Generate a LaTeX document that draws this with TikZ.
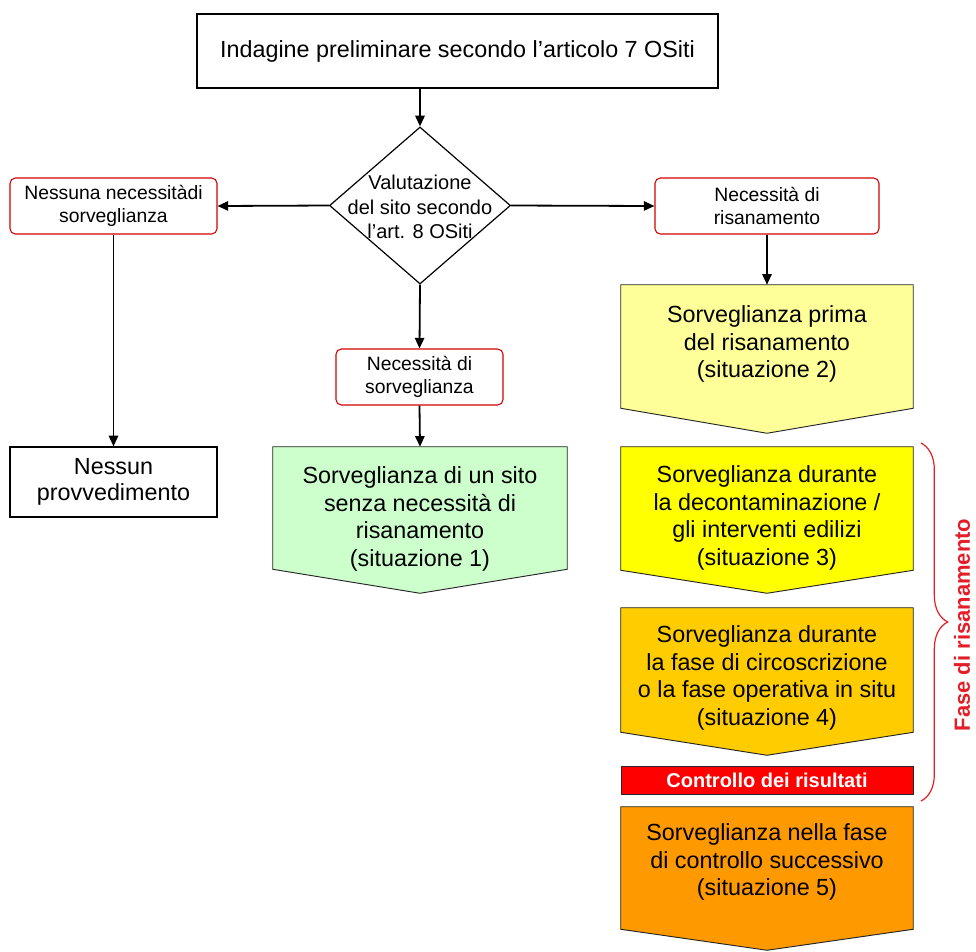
\documentclass[tikz,border=0pt]{standalone}
\usepackage{fontspec}
\setmainfont{Liberation Sans}
\usetikzlibrary{arrows.meta,shapes.geometric,decorations.pathreplacing,calc}
\definecolor{boxred}{RGB}{210,0,0}
\definecolor{bracered}{RGB}{228,30,40}
\definecolor{sgreen}{RGB}{204,255,204}
\definecolor{syellowl}{RGB}{255,255,153}
\definecolor{syellow}{RGB}{255,255,0}
\definecolor{sgold}{RGB}{255,204,0}
\definecolor{sorange}{RGB}{255,153,0}
\definecolor{barred}{RGB}{255,0,0}
\begin{document}
\begin{tikzpicture}[x=0.75pt,y=-0.75pt,
  plainbox/.style={draw=black, line width=0.9pt, rectangle, inner sep=0pt, align=center, font=\fontsize{17.5}{19.5}\selectfont},
  redbox/.style={draw=boxred, line width=0.8pt, rounded corners=4pt, inner sep=0pt, align=center, font=\fontsize{14.5}{17.5}\selectfont},
  conn/.style={line width=1.35pt, -{Triangle[length=8pt,width=7pt]}},
  pentbody/.style={inner sep=0pt, rectangle},
  penttext/.style={align=center, font=\fontsize{17.5}{20.8}\selectfont, inner sep=0pt},
  pentline/.style={draw=black!85, line width=0.7pt},
]
\useasboundingbox (0,0) rectangle (976,951);

% top box
\node[plainbox, minimum width=390.75pt, minimum height=55.5pt] (top) at (457.5,51) {Indagine preliminare secondo l’articolo 7 OSiti};

% diamond
\node[diamond, draw=black, line width=0.9pt, minimum width=135.75pt, minimum height=117.75pt, inner sep=0pt] (diam) at (420,205.5) {};
\node[align=center, inner sep=0pt, font=\fontsize{15}{18.4}\selectfont] (diamt) at (420,207) {Valutazione\\del sito secondo\\l’art. 8 OSiti};

% rounded boxes
\node[redbox, minimum width=155.25pt, minimum height=42pt] (lbox) at (113.5,206) {Nessuna necessitàdi\\sorveglianza};
\node[redbox, minimum width=168pt, minimum height=42pt] (rbox) at (767,206) {Necessità di\\risanamento};
\node[redbox, minimum width=125.25pt, minimum height=42pt] (mbox) at (419.5,377) {Necessità di\\sorveglianza};

% no action box
\node[plainbox, minimum width=155.25pt, minimum height=52.5pt] (none) at (113.5,482) {Nessun\\provvedimento};

% pentagon bodies
\node[pentbody, minimum width=220.5pt, minimum height=91.5pt] (s1) at (420,508) {};
\node[pentbody, minimum width=219pt, minimum height=92.25pt] (s2) at (767,346.5) {};
\node[pentbody, minimum width=219pt, minimum height=92.25pt] (s3) at (767,508.5) {};
\node[pentbody, minimum width=219pt, minimum height=93pt] (s4) at (767,670) {};
\node[pentbody, minimum width=219pt, minimum height=91.5pt] (s5) at (767,868) {};

\path[pentline, fill=sgreen] (s1.north west) -- (s1.north east) -- (s1.south east) -- ([yshift=-18pt]s1.south) -- (s1.south west) -- cycle;
\path[pentline, fill=syellowl] (s2.north west) -- (s2.north east) -- (s2.south east) -- ([yshift=-18.75pt]s2.south) -- (s2.south west) -- cycle;
\path[pentline, fill=syellow] (s3.north west) -- (s3.north east) -- (s3.south east) -- ([yshift=-17.25pt]s3.south) -- (s3.south west) -- cycle;
\path[pentline, fill=sgold] (s4.north west) -- (s4.north east) -- (s4.south east) -- ([yshift=-17.25pt]s4.south) -- (s4.south west) -- cycle;
\path[pentline, fill=sorange] (s5.north west) -- (s5.north east) -- (s5.south east) -- ([yshift=-15.75pt]s5.south) -- (s5.south west) -- cycle;

\node[penttext] (s1t) at (420,519) {Sorveglianza di un sito\\senza necessità di\\risanamento\\(situazione 1)};
\node[penttext] (s2t) at (767,344) {Sorveglianza prima\\del risanamento\\(situazione 2)};
\node[penttext] (s3t) at (767,518) {Sorveglianza durante\\la decontaminazione /\\gli interventi edilizi\\(situazione 3)};
\node[penttext] (s4t) at (767,678) {Sorveglianza durante\\la fase di circoscrizione\\o la fase operativa in situ\\(situazione 4)};
\node[penttext] (s5t) at (767,862) {Sorveglianza nella fase\\di controllo successivo\\(situazione 5)};

% red bar
\node[draw=black!85, fill=barred, line width=0.7pt, minimum width=219pt, minimum height=21pt, inner sep=0pt, text=white, font=\bfseries\fontsize{15}{18}\selectfont] (bar) at (767,780) {Controllo dei risultati};

% brace and label
\coordinate (b1) at (921,443);
\coordinate (b2) at (921,801);
\draw[bracered, line width=0.9pt, decorate, decoration={brace, amplitude=20pt}] (b1) -- (b2);
\node[rotate=90, text=bracered, inner sep=0pt, font=\bfseries\fontsize{16.5}{20}\selectfont] (fase) at (962,625) {Fase di risanamento};

% connectors
\draw[conn] (top.south -| diam.north) -- (diam.north);
\draw[conn] (diam.west) -- (lbox.east);
\draw[conn] (diam.east) -- (rbox.west);
\draw[conn] (diam.south) -- (mbox.north);
\draw[conn] (lbox.south) -- (none.north);
\draw[conn] (mbox.south) -- (s1.north);
\draw[conn] (rbox.south) -- (s2.north);
\end{tikzpicture}
\end{document}
